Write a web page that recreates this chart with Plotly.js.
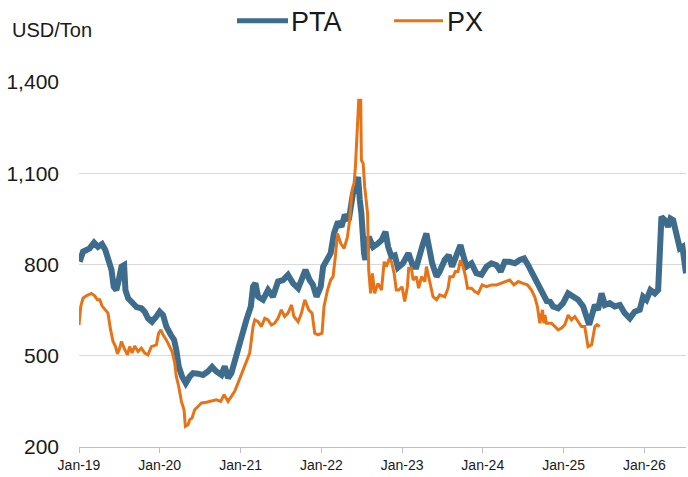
<!DOCTYPE html>
<html>
<head>
<meta charset="utf-8">
<script src="https://cdn.plot.ly/plotly-3.0.1.min.js"></script>
<style>
html,body{margin:0;padding:0;background:#fff;}
#chart{width:688px;height:477px;}
</style>
</head>
<body>
<div id="chart"></div>
<script>
const ptaDates = ['2019-01-04','2019-01-19','2019-02-18','2019-03-10','2019-03-28','2019-04-15','2019-04-30','2019-05-12','2019-05-28','2019-06-07','2019-06-19','2019-06-30','2019-07-12','2019-07-24','2019-07-30','2019-08-11','2019-09-02','2019-09-18','2019-10-10','2019-10-25','2019-11-09','2019-11-27','2019-12-17','2020-01-01','2020-01-16','2020-01-31','2020-02-20','2020-03-06','2020-03-16','2020-03-27','2020-04-11','2020-04-28','2020-05-16','2020-05-31','2020-06-22','2020-07-15','2020-08-06','2020-08-25','2020-09-13','2020-10-06','2020-10-21','2020-11-05','2020-11-20','2020-12-02','2020-12-13','2020-12-20','2021-01-05','2021-01-27','2021-02-16','2021-02-26','2021-03-09','2021-03-21','2021-04-12','2021-05-05','2021-05-27','2021-06-19','2021-07-12','2021-08-03','2021-08-26','2021-09-18','2021-10-03','2021-10-21','2021-11-09','2021-11-24','2021-12-10','2021-12-29','2022-01-09','2022-01-24','2022-02-12','2022-02-27','2022-03-17','2022-04-02','2022-04-17','2022-05-05','2022-05-14','2022-05-24','2022-06-04','2022-06-16','2022-06-24','2022-07-01','2022-07-13','2022-07-19','2022-08-03','2022-08-23','2022-09-14','2022-09-30','2022-10-18','2022-10-30','2022-11-14','2022-11-29','2022-12-13','2023-01-05','2023-01-30','2023-02-20','2023-03-07','2023-03-22','2023-04-06','2023-04-21','2023-05-02','2023-05-17','2023-06-06','2023-06-20','2023-07-13','2023-07-31','2023-08-15','2023-09-04','2023-09-22','2023-10-04','2023-10-19','2023-11-11','2023-12-03','2023-12-26','2024-01-18','2024-02-09','2024-03-03','2024-03-22','2024-04-09','2024-05-02','2024-05-25','2024-06-16','2024-07-06','2024-07-24','2024-08-08','2024-08-23','2024-09-10','2024-09-22','2024-10-04','2024-10-16','2024-10-31','2024-11-14','2024-12-07','2024-12-29','2025-01-21','2025-02-12','2025-03-07','2025-03-30','2025-04-14','2025-04-26','2025-05-07','2025-05-22','2025-06-05','2025-06-21','2025-07-06','2025-07-28','2025-08-20','2025-09-12','2025-10-04','2025-10-27','2025-11-18','2025-12-11','2025-12-26','2026-01-10','2026-01-28','2026-02-17','2026-03-04','2026-03-11','2026-03-19','2026-04-03','2026-04-18','2026-04-29','2026-05-11','2026-05-18','2026-05-29','2026-06-10','2026-06-22','2026-07-03','2026-07-08'];
const ptaValues = [809,842,853,872,858,867,848,820,782,727,716,749,793,798,716,689,673,660,656,645,623,612,629,645,634,596,569,552,519,465,432,410,432,443,441,437,448,463,448,437,465,427,443,476,505,525,574,618,662,727,738,694,684,716,694,744,749,766,738,722,749,782,749,733,694,727,793,815,837,902,941,924,963,946,1001,1034,1045,1088,1012,968,837,815,891,858,869,880,908,858,826,830,790,804,837,793,793,842,869,902,848,804,760,777,815,831,793,826,864,831,793,804,771,766,793,804,798,777,809,809,804,815,820,798,777,749,722,705,690,680,678,662,656,673,705,694,684,662,629,602,629,667,651,705,667,673,662,667,640,623,645,651,694,684,716,705,716,815,957,946,924,951,946,924,880,853,858,782,771];

const pxDates = ['2019-01-01','2019-01-09','2019-01-19','2019-02-03','2019-02-26','2019-03-13','2019-03-25','2019-04-05','2019-04-15','2019-04-30','2019-05-12','2019-05-24','2019-06-04','2019-06-15','2019-06-24','2019-07-04','2019-07-12','2019-07-24','2019-08-08','2019-08-18','2019-08-29','2019-09-10','2019-09-25','2019-10-10','2019-10-25','2019-11-09','2019-11-24','2019-12-17','2019-12-27','2020-01-06','2020-01-16','2020-01-31','2020-02-15','2020-02-26','2020-03-09','2020-03-16','2020-03-27','2020-04-08','2020-04-20','2020-04-26','2020-05-08','2020-05-16','2020-05-26','2020-06-07','2020-06-22','2020-07-08','2020-07-30','2020-08-22','2020-09-13','2020-10-03','2020-10-18','2020-11-05','2020-11-20','2020-12-05','2020-12-20','2021-01-19','2021-02-11','2021-02-26','2021-03-06','2021-03-21','2021-04-05','2021-04-20','2021-05-05','2021-05-20','2021-06-04','2021-06-19','2021-07-04','2021-07-19','2021-08-03','2021-08-19','2021-08-30','2021-09-18','2021-10-03','2021-10-18','2021-11-05','2021-11-20','2021-12-02','2021-12-17','2022-01-04','2022-01-13','2022-01-29','2022-02-12','2022-02-23','2022-03-06','2022-03-15','2022-03-30','2022-04-14','2022-04-29','2022-05-09','2022-05-20','2022-05-29','2022-06-04','2022-06-09','2022-06-16','2022-06-19','2022-06-28','2022-07-01','2022-07-09','2022-07-16','2022-07-29','2022-08-03','2022-08-12','2022-08-20','2022-08-30','2022-09-14','2022-09-30','2022-10-12','2022-10-22','2022-11-02','2022-11-14','2022-11-26','2022-12-06','2022-12-17','2023-01-01','2023-01-13','2023-01-25','2023-01-31','2023-02-12','2023-02-20','2023-03-07','2023-03-17','2023-03-30','2023-04-14','2023-04-21','2023-05-02','2023-05-11','2023-05-21','2023-06-06','2023-06-20','2023-07-13','2023-07-28','2023-08-05','2023-08-20','2023-08-30','2023-09-11','2023-09-22','2023-10-04','2023-10-15','2023-10-24','2023-11-11','2023-11-26','2023-12-11','2023-12-29','2024-01-18','2024-02-09','2024-03-03','2024-03-22','2024-04-09','2024-05-02','2024-05-21','2024-06-09','2024-07-01','2024-07-21','2024-08-08','2024-08-23','2024-09-04','2024-09-15','2024-09-27','2024-10-03','2024-10-08','2024-10-15','2024-11-07','2024-11-22','2024-12-07','2024-12-22','2025-01-06','2025-01-21','2025-02-05','2025-02-20','2025-03-07','2025-03-22','2025-04-06','2025-04-14','2025-04-21','2025-05-07','2025-05-13','2025-05-22','2025-06-01','2025-06-13'];
const pxValues = [601,662,689,697,705,697,684,684,664,651,640,585,547,530,506,525,547,525,503,530,509,532,514,525,509,503,530,536,574,585,569,552,532,514,476,432,399,350,322,268,273,290,295,322,333,345,347,352,355,350,372,350,366,383,410,465,509,596,618,612,596,623,618,601,607,623,651,629,640,667,629,612,640,684,651,640,574,569,574,662,716,749,760,831,902,869,853,891,946,1045,1067,1121,1187,1263,1340,1340,1143,1132,1055,968,782,705,771,705,738,716,809,793,815,809,771,716,716,727,678,727,788,788,749,760,722,760,744,793,760,733,694,684,700,694,722,760,760,777,777,815,793,760,722,722,711,705,733,727,733,733,738,744,749,733,744,738,733,716,694,662,607,651,607,634,607,607,596,585,591,602,634,618,629,612,596,596,563,530,536,563,596,602,596];

const seriesNames = ['PTA','PX'];
const xTickVals = ['2019-01-01','2020-01-01','2021-01-01','2022-01-01','2023-01-01','2024-01-01','2025-01-01','2026-01-01'];
const xTickText = ['Jan-19','Jan-20','Jan-21','Jan-22','Jan-23','Jan-24','Jan-25','Jan-26'];
const yTickVals = [200,500,800,1100,1400];
const yTickText = ['200','500','800','1,100','1,400'];
const unitLabel = 'USD/Ton';

const BLUE = '#3E6C8C';
const ORANGE = '#E87316';
const FONT = 'Liberation Sans, Arial, sans-serif';

const traces = [
  {x: ptaDates, y: ptaValues, name: seriesNames[0], type: 'scatter', mode: 'lines',
   line: {color: BLUE, width: 6}, showlegend: false},
  {x: pxDates, y: pxValues, name: seriesNames[1], type: 'scatter', mode: 'lines',
   line: {color: ORANGE, width: 3}, showlegend: false}
];

// plot area: l=79, r=2, t=82, b=30 -> width 607, height 365
const L = 79, W = 607, T = 82, H = 365;
const px2x = p => (p - L) / W;
const py2y = p => (T + H - p) / H;

const layout = {
  width: 688, height: 477,
  margin: {l: L, r: 688 - L - W, t: T, b: 477 - T - H, pad: 0},
  paper_bgcolor: '#ffffff', plot_bgcolor: '#ffffff',
  font: {family: FONT, color: '#1a1a1a'},
  showlegend: false,
  xaxis: {
    type: 'date', range: ['2019-01-01', '2026-07-08'],
    tickmode: 'array', tickvals: xTickVals, ticktext: xTickText,
    tickfont: {size: 14, color: '#1a1a1a'},
    showgrid: false, zeroline: false,
    showline: true, linecolor: '#bfbfbf', linewidth: 1,
    ticks: 'outside', ticklen: 5, tickcolor: '#bfbfbf', tickwidth: 1
  },
  yaxis: {
    range: [200, 1400], tickmode: 'array', tickvals: yTickVals, ticktext: yTickText,
    tickfont: {size: 21, color: '#1a1a1a'},
    showgrid: true, gridcolor: '#d9d9d9', gridwidth: 1,
    zeroline: false, showline: false, ticks: '', ticklabelstandoff: 19
  },
  shapes: [
    {type: 'line', xref: 'paper', yref: 'paper', x0: px2x(237), x1: px2x(288), y0: py2y(20.7), y1: py2y(20.7),
     line: {color: BLUE, width: 5}},
    {type: 'line', xref: 'paper', yref: 'paper', x0: px2x(394), x1: px2x(443), y0: py2y(20.7), y1: py2y(20.7),
     line: {color: ORANGE, width: 3}}
  ],
  annotations: [
    {xref: 'paper', yref: 'paper', x: px2x(289), y: py2y(22), xanchor: 'left', yanchor: 'middle',
     text: seriesNames[0], showarrow: false, font: {size: 27, color: '#1a1a1a', family: FONT}},
    {xref: 'paper', yref: 'paper', x: px2x(445), y: py2y(22), xanchor: 'left', yanchor: 'middle',
     text: seriesNames[1], showarrow: false, font: {size: 27, color: '#1a1a1a', family: FONT}},
    {xref: 'paper', yref: 'paper', x: px2x(9.5), y: py2y(30.5), xanchor: 'left', yanchor: 'middle',
     text: unitLabel, showarrow: false, font: {size: 20, color: '#1a1a1a', family: FONT}}
  ]
};

Plotly.newPlot('chart', traces, layout, {staticPlot: true, displayModeBar: false});
</script>
</body>
</html>
